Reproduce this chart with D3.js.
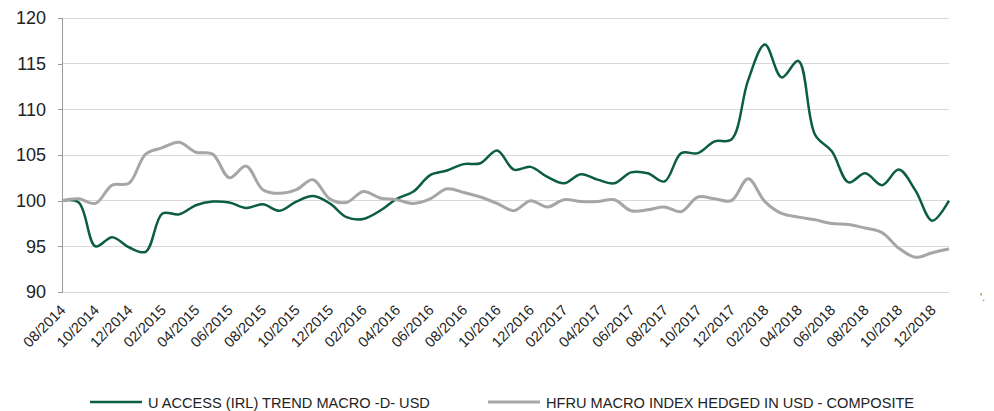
<!DOCTYPE html>
<html><head><meta charset="utf-8">
<script src="https://cdn.jsdelivr.net/npm/d3@7"></script>
<style>body{margin:0;background:#fff}svg{display:block;font-family:"Liberation Sans",Arial,sans-serif}</style>
</head><body><svg id="c" width="994" height="411"></svg>
<script>
const startYear = 2014, startMonth = 8, nMonths = 54;
const months = [];
for (let i = 0; i < nMonths; i++) { const m = (startMonth - 1 + i) % 12 + 1, y = startYear + Math.floor((startMonth - 1 + i) / 12); months.push(String(m).padStart(2, "0") + "/" + y); }
const tickLabels = months.filter((d, i) => i % 2 === 0 && i < 53);
const yTicks = [90, 95, 100, 105, 110, 115, 120];
const seriesNames = ["U ACCESS (IRL) TREND MACRO -D- USD", "HFRU MACRO INDEX HEDGED IN USD - COMPOSITE"];
const fundValues = [100.0,99.8,95.0,96.0,94.9,94.4,98.6,98.5,99.5,99.9,99.8,99.2,99.6,98.9,99.9,100.5,99.7,98.2,98.0,98.9,100.2,101.0,102.8,103.3,104.0,104.1,105.5,103.4,103.7,102.6,101.9,102.9,102.3,101.9,103.1,103.0,102.1,105.2,105.2,106.5,106.7,113.2,117.1,113.5,115.3,107.2,105.4,102.0,103.0,101.7,103.4,101.1,97.8,100.0];
const indexValues = [100.0,100.2,99.7,101.7,101.9,105.1,105.8,106.4,105.3,105.1,102.5,103.8,101.2,100.8,101.2,102.3,100.2,99.8,101.0,100.3,100.1,99.7,100.2,101.3,100.9,100.4,99.7,98.9,100.0,99.3,100.1,99.9,99.9,100.1,98.9,99.0,99.3,98.8,100.4,100.2,100.0,102.4,99.9,98.6,98.2,97.9,97.5,97.4,97.0,96.5,94.8,93.8,94.3,94.7];

const svg = d3.select("#c");
const L = 62, R = 949, T = 18, B = 292;
const x = d3.scalePoint().domain(months).range([L, R]);
const y = d3.scaleLinear().domain([90, 120]).range([B, T]);

// gridlines
svg.append("g").selectAll("line").data(yTicks).join("line")
  .attr("x1", L).attr("x2", R).attr("y1", d => y(d)).attr("y2", d => y(d))
  .attr("stroke", "#d9d9d9").attr("stroke-width", 1).attr("shape-rendering", "crispEdges");

// y axis
const ya = svg.append("g").attr("transform", `translate(${L},0)`)
  .call(d3.axisLeft(y).tickValues(yTicks).tickSize(4).tickPadding(12).tickFormat(d3.format("d")));
ya.select(".domain").attr("stroke", "#999").attr("shape-rendering", "crispEdges");
ya.selectAll(".tick line").attr("stroke", "#999").attr("shape-rendering", "crispEdges");
ya.selectAll("text").attr("font-size", 18).attr("fill", "#222").style("font-family", "Liberation Sans, Arial, sans-serif");

// x axis labels
const xa = svg.append("g").attr("transform", `translate(0,${B})`)
  .call(d3.axisBottom(x).tickValues(tickLabels).tickSize(0).tickPadding(0));
xa.select(".domain").remove();
xa.selectAll("text").attr("font-size", 14.6).attr("fill", "#222").style("font-family", "Liberation Sans, Arial, sans-serif")
  .attr("text-anchor", "end").attr("dy", 0).attr("y", 0)
  .attr("transform", "translate(4,19) rotate(-45)");

const line = d3.line().x((d, i) => x(months[i])).y(d => y(d)).curve(d3.curveCatmullRom.alpha(0.5));
svg.append("path").datum(fundValues).attr("d", line).attr("fill", "none").attr("stroke", "#0b5e3f").attr("stroke-width", 2.5);
svg.append("path").datum(indexValues).attr("d", line).attr("fill", "none").attr("stroke", "#a6a6a6").attr("stroke-width", 3);

// legend
const lg = svg.append("g").style("font-family", "Liberation Sans, Arial, sans-serif");
const legendItems = [{name: seriesNames[0], color: "#0b5e3f", w: 2.5, x0: 90}, {name: seriesNames[1], color: "#a6a6a6", w: 3, x0: 488}];
legendItems.forEach(it => {
  lg.append("line").attr("x1", it.x0).attr("x2", it.x0 + 52).attr("y1", 402).attr("y2", 402).attr("stroke", it.color).attr("stroke-width", it.w);
  lg.append("text").attr("x", it.x0 + 58).attr("y", 407.5).attr("font-size", 14.6).attr("fill", "#222").text(it.name);
});
svg.append("text").attr("x", 980).attr("y", 301).attr("font-size", 11).attr("fill", "#666").text("'.");
</script></body></html>
